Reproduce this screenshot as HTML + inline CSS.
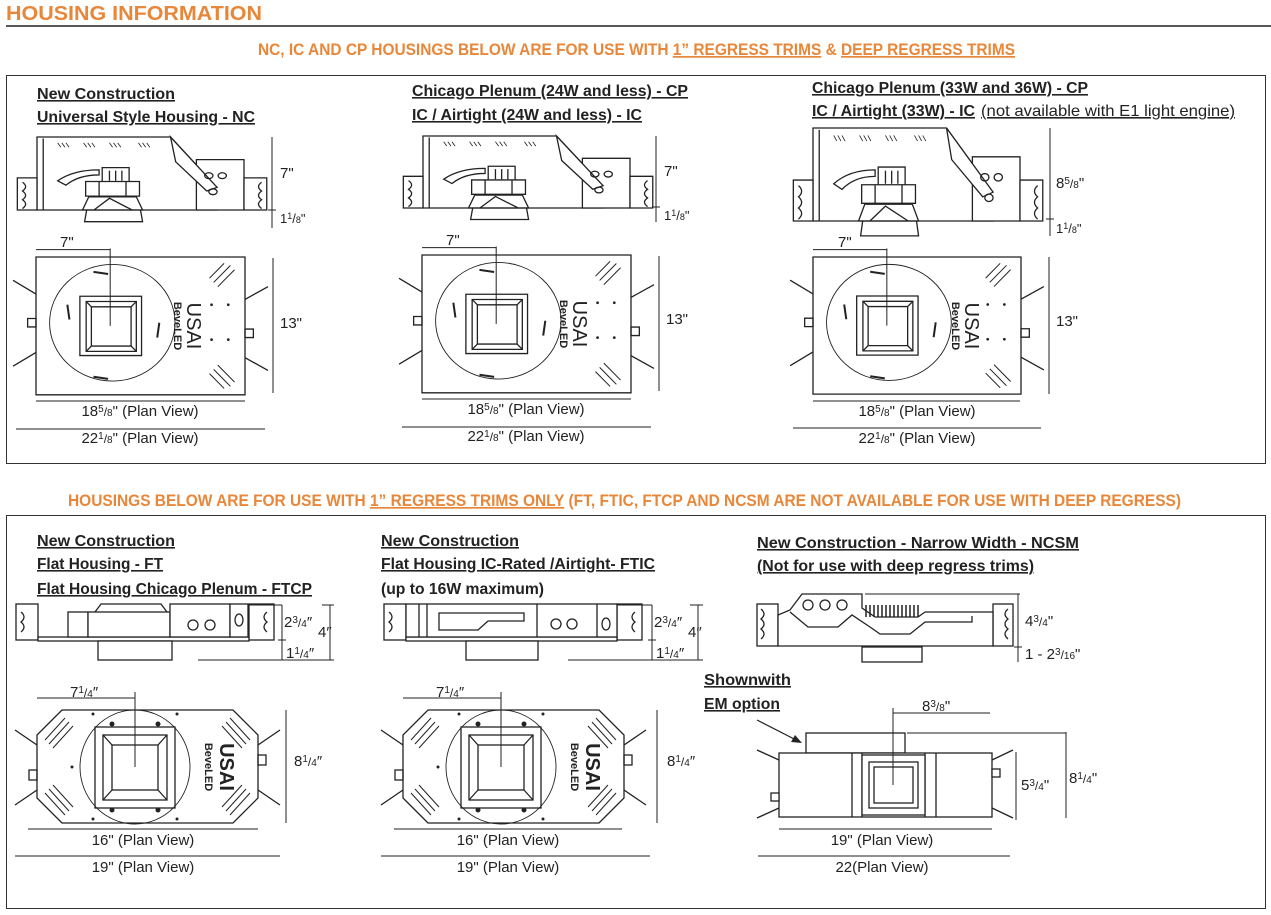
<!DOCTYPE html>
<html><head><meta charset="utf-8"><style>
html,body{margin:0;padding:0;background:#fff;}
svg{display:block;}
.h{font-family:"Liberation Sans Narrow","Liberation Sans",sans-serif;font-weight:bold;font-size:16px;fill:#222;text-decoration:underline;}
.o{font-family:"Liberation Sans Narrow","Liberation Sans",sans-serif;font-weight:bold;font-size:17px;fill:#e8873a;}
.d{font-family:"Liberation Sans",sans-serif;font-size:15px;fill:#222;}
.u{stroke:#222;stroke-width:1.2;}
</style></head><body>
<svg width="1271" height="915" viewBox="0 0 1271 915" xmlns="http://www.w3.org/2000/svg">
<defs>
<g id="side" fill="none" stroke="#222" stroke-width="1.3">
  <path vector-effect="non-scaling-stroke" d="M0,0 H129 L174,69 V100 H0 Z" fill="#fff"/>
  <path vector-effect="non-scaling-stroke" d="M6,2 V100"/>
  <path vector-effect="non-scaling-stroke" d="M154,31 H200 V100 H154 Z" fill="#fff"/>
  <path vector-effect="non-scaling-stroke" d="M129,0 L174,69 L164,74 L134,34 Z" fill="#fff"/>
  <rect vector-effect="non-scaling-stroke" x="-19" y="56" width="19" height="44" fill="#fff"/>
  <rect vector-effect="non-scaling-stroke" x="200" y="56" width="22" height="44" fill="#fff"/>
  <path vector-effect="non-scaling-stroke" d="M-14,62 q6,6 0,12 q6,6 0,12 q6,6 0,12 M217,62 q-6,6 0,12 q-6,6 0,12 q-6,6 0,12"/>
  <rect vector-effect="non-scaling-stroke" x="63" y="42" width="26" height="20" fill="#fff"/>
  <path vector-effect="non-scaling-stroke" d="M70,46 V60 M76,46 V60 M82,46 V60"/>
  <rect vector-effect="non-scaling-stroke" x="47" y="61" width="52" height="20" fill="#fff"/>
  <path vector-effect="non-scaling-stroke" d="M60,61 V81 M86,61 V81"/>
  <path vector-effect="non-scaling-stroke" d="M20,60 Q35,45 60,45 L60,52 Q40,52 28,66 Z"/>
  <path vector-effect="non-scaling-stroke" d="M50,82 H96 L102,100 H44 Z M48,100 L46,116 H102 L100,100 M55,100 L70,84 L92,100"/>
  <circle vector-effect="non-scaling-stroke" cx="166" cy="53" r="4"/>
  <circle vector-effect="non-scaling-stroke" cx="179" cy="53" r="4"/>
  <circle vector-effect="non-scaling-stroke" cx="170" cy="75" r="4"/>
  <path vector-effect="non-scaling-stroke" d="M20,8 l3,6 M24,8 l3,6 M28,8 l3,6 M45,8 l3,6 M49,8 l3,6 M53,8 l3,6 M70,8 l3,6 M74,8 l3,6 M78,8 l3,6 M98,8 l3,6 M102,8 l3,6 M106,8 l3,6" stroke-width="0.8"/>
</g>
<g id="plan" fill="none" stroke="#222" stroke-width="1.3">
  <rect vector-effect="non-scaling-stroke" x="0" y="0" width="200" height="130" fill="#fff"/>
  <ellipse vector-effect="non-scaling-stroke" cx="73" cy="62" rx="60" ry="55" stroke-width="0.9"/>
  <rect vector-effect="non-scaling-stroke" x="42" y="37" width="59" height="56"/>
  <rect vector-effect="non-scaling-stroke" x="48" y="42" width="48" height="47"/>
  <rect vector-effect="non-scaling-stroke" x="53" y="47" width="38" height="37"/>
  <path vector-effect="non-scaling-stroke" d="M48,42 L53,47 M96,42 L91,47 M48,89 L53,84 M96,89 L91,84"/>
  <path vector-effect="non-scaling-stroke" d="M71,-8 V65 M0,-7 H71" stroke-width="1"/>
  <path vector-effect="non-scaling-stroke" d="M0,35 L-22,22 M0,90 L-22,103 M200,40 L222,28 M200,95 L222,107"/>
  <rect vector-effect="non-scaling-stroke" x="-8" y="58" width="8" height="8"/>
  <rect vector-effect="non-scaling-stroke" x="200" y="68" width="8" height="8"/>
  <path vector-effect="non-scaling-stroke" d="M180,6 l-14,14 M186,8 l-16,16 M190,12 l-16,16 M180,124 l-14,-14 M186,122 l-16,-16 M190,118 l-16,-16" stroke-width="1"/>
  <path vector-effect="non-scaling-stroke" d="M55,14 l14,2 M30,45 l2,14 M118,62 l-2,14 M55,113 l14,2" stroke-width="2"/>
  <g fill="#222" stroke="none"><circle cx="168" cy="45" r="1.3"/><circle cx="184" cy="45" r="1.3"/><circle cx="168" cy="78" r="1.3"/><circle cx="184" cy="78" r="1.3"/></g>
</g>
<g id="flatplan" fill="none" stroke="#222" stroke-width="1.3">
  <path d="M25,0 H196 L221,25 V88 L196,113 H25 L0,88 V25 Z" fill="#fff"/>
  <ellipse cx="98" cy="57" rx="55" ry="57" stroke-width="0.9"/>
  <rect x="58" y="17" width="80" height="81"/>
  <rect x="66" y="25" width="64" height="65"/>
  <rect x="75" y="35" width="46" height="45"/>
  <path d="M66,25 L75,35 M130,25 L121,35 M66,90 L75,80 M130,90 L121,80"/>
  <path d="M98,-18 V57 M0,-12 H98" stroke-width="1"/>
  <path d="M0,35 L-22,20 M0,80 L-22,95 M221,35 L243,20 M221,80 L243,95"/>
  <rect x="-8" y="60" width="8" height="10"/><rect x="221" y="45" width="8" height="10"/>
  <path d="M8,30 L28,8 M12,34 L32,12 M16,38 L36,16 M8,83 L28,105 M12,79 L32,101 M16,75 L36,97 M213,30 L193,8 M209,34 L189,12 M205,38 L185,16 M213,83 L193,105 M209,79 L189,101 M205,75 L185,97" stroke-width="1"/>
  <g fill="#222" stroke="none"><circle cx="75" cy="14" r="2.5"/><circle cx="121" cy="14" r="2.5"/><circle cx="75" cy="100" r="2.5"/><circle cx="121" cy="100" r="2.5"/><circle cx="56" cy="4" r="1.5"/><circle cx="56" cy="109" r="1.5"/><circle cx="140" cy="4" r="1.5"/><circle cx="140" cy="109" r="1.5"/><circle cx="35" cy="57" r="1.5"/></g>
</g>
<g id="flatside" fill="#fff" stroke="#222" stroke-width="1.3">
  <rect x="-22" y="0" width="22" height="36"/>
  <path d="M-17,8 q6,5 0,10 q6,5 0,10" fill="none"/>
  <rect x="211" y="0" width="25" height="36"/>
  <path d="M229,8 q-6,5 0,10 q-6,5 0,10" fill="none"/>
  <rect x="0" y="33" width="211" height="4"/>
</g>
</defs>

<!-- header -->
<text x="6" y="20" class="o" style="font-size:20px" textLength="256" lengthAdjust="spacingAndGlyphs">HOUSING INFORMATION</text>
<line x1="6" y1="26" x2="1271" y2="26" stroke="#222" stroke-width="1.5"/>
<text x="258" y="55" class="o" textLength="757" lengthAdjust="spacingAndGlyphs">NC, IC AND CP HOUSINGS BELOW ARE FOR USE WITH  <tspan text-decoration="underline">1” REGRESS TRIMS</tspan> &amp; <tspan text-decoration="underline">DEEP REGRESS TRIMS</tspan></text>
<rect x="6.5" y="75.5" width="1259" height="388" fill="none" stroke="#333" stroke-width="1"/>

<!-- panel 1 -->
<text x="37" y="99" class="h" textLength="138" lengthAdjust="spacingAndGlyphs">New Construction</text>
<text x="37" y="122" class="h" textLength="218" lengthAdjust="spacingAndGlyphs">Universal Style Housing - NC</text>
<use href="#side" transform="translate(37,137) scale(1.035,0.73)"/>
<path d="M272,137 V228 M268,210 H276" stroke="#222" stroke-width="1" fill="none"/>
<text x="280" y="178" class="d">7"</text>
<text x="280" y="223" class="d" style="font-size:13px">1<tspan font-size="9" dy="-4">1</tspan><tspan dy="4">/</tspan><tspan font-size="9">8</tspan>"</text>
<use href="#plan" transform="translate(36,257) scale(1.045,1.06)"/>
<text x="60" y="247" class="d">7"</text>
<text x="187" y="326" transform="rotate(90 187 326)" text-anchor="middle" style="font-family:'Liberation Sans',sans-serif;font-size:20px;fill:#222">USAI</text>
<text x="174" y="326" transform="rotate(90 174 326)" text-anchor="middle" style="font-family:'Liberation Sans',sans-serif;font-weight:bold;font-size:11px;fill:#222">BeveLED</text>
<path d="M273,258 V393" stroke="#222" stroke-width="1"/>
<text x="280" y="328" class="d">13"</text>
<path d="M36,401 H245 M16,429 H265" stroke="#222" stroke-width="1"/>
<text x="140" y="416" class="d" text-anchor="middle">18<tspan font-size="10" dy="-4">5</tspan><tspan font-size="12" dy="4">/</tspan><tspan font-size="10">8</tspan>" (Plan View)</text>
<text x="140" y="443" class="d" text-anchor="middle">22<tspan font-size="10" dy="-4">1</tspan><tspan font-size="12" dy="4">/</tspan><tspan font-size="10">8</tspan>" (Plan View)</text>

<!-- panel 2 -->
<text x="412" y="96" class="h" textLength="276" lengthAdjust="spacingAndGlyphs">Chicago Plenum (24W and less) - CP</text>
<text x="412" y="120" class="h" textLength="230" lengthAdjust="spacingAndGlyphs">IC / Airtight (24W and less) - IC</text>
<use href="#side" transform="translate(423,136) scale(1.035,0.72)"/>
<path d="M656,136 V222 M652,207 H660" stroke="#222" stroke-width="1" fill="none"/>
<text x="664" y="176" class="d">7"</text>
<text x="664" y="220" class="d" style="font-size:13px">1<tspan font-size="9" dy="-4">1</tspan><tspan dy="4">/</tspan><tspan font-size="9">8</tspan>"</text>
<use href="#plan" transform="translate(422,255) scale(1.045,1.06)"/>
<text x="446" y="245" class="d">7"</text>
<text x="573" y="324" transform="rotate(90 573 324)" text-anchor="middle" style="font-family:'Liberation Sans',sans-serif;font-size:20px;fill:#222">USAI</text>
<text x="560" y="324" transform="rotate(90 560 324)" text-anchor="middle" style="font-family:'Liberation Sans',sans-serif;font-weight:bold;font-size:11px;fill:#222">BeveLED</text>
<path d="M659,256 V391" stroke="#222" stroke-width="1"/>
<text x="666" y="324" class="d">13"</text>
<path d="M422,399 H631 M402,427 H651" stroke="#222" stroke-width="1"/>
<text x="526" y="414" class="d" text-anchor="middle">18<tspan font-size="10" dy="-4">5</tspan><tspan font-size="12" dy="4">/</tspan><tspan font-size="10">8</tspan>" (Plan View)</text>
<text x="526" y="441" class="d" text-anchor="middle">22<tspan font-size="10" dy="-4">1</tspan><tspan font-size="12" dy="4">/</tspan><tspan font-size="10">8</tspan>" (Plan View)</text>

<!-- panel 3 -->
<text x="812" y="93" class="h" textLength="276" lengthAdjust="spacingAndGlyphs">Chicago Plenum (33W and 36W) - CP</text>
<text x="812" y="116" class="h" textLength="163" lengthAdjust="spacingAndGlyphs">IC / Airtight (33W) - IC</text>
<text x="981" y="116" style="font-family:'Liberation Sans Narrow','Liberation Sans',sans-serif;font-size:16px;fill:#222;text-decoration:underline" textLength="254" lengthAdjust="spacingAndGlyphs">(not available with E1 light engine)</text>
<use href="#side" transform="translate(813,128) scale(1.035,0.93)"/>
<path d="M1050,128 V236 M1046,219 H1054" stroke="#222" stroke-width="1" fill="none"/>
<text x="1056" y="188" class="d">8<tspan font-size="10" dy="-4">5</tspan><tspan font-size="12" dy="4">/</tspan><tspan font-size="10">8</tspan>"</text>
<text x="1056" y="233" class="d" style="font-size:13px">1<tspan font-size="9" dy="-4">1</tspan><tspan dy="4">/</tspan><tspan font-size="9">8</tspan>"</text>
<use href="#plan" transform="translate(813,257) scale(1.04,1.055)"/>
<text x="838" y="247" class="d">7"</text>
<text x="965" y="326" transform="rotate(90 965 326)" text-anchor="middle" style="font-family:'Liberation Sans',sans-serif;font-size:20px;fill:#222">USAI</text>
<text x="952" y="326" transform="rotate(90 952 326)" text-anchor="middle" style="font-family:'Liberation Sans',sans-serif;font-weight:bold;font-size:11px;fill:#222">BeveLED</text>
<path d="M1049,257 V394" stroke="#222" stroke-width="1"/>
<text x="1056" y="326" class="d">13"</text>
<path d="M813,401 H1020 M793,428 H1041" stroke="#222" stroke-width="1"/>
<text x="917" y="416" class="d" text-anchor="middle">18<tspan font-size="10" dy="-4">5</tspan><tspan font-size="12" dy="4">/</tspan><tspan font-size="10">8</tspan>" (Plan View)</text>
<text x="917" y="443" class="d" text-anchor="middle">22<tspan font-size="10" dy="-4">1</tspan><tspan font-size="12" dy="4">/</tspan><tspan font-size="10">8</tspan>" (Plan View)</text>

<!-- second section -->
<text x="68" y="506" class="o" textLength="1113" lengthAdjust="spacingAndGlyphs">HOUSINGS BELOW ARE FOR USE WITH  <tspan text-decoration="underline">1” REGRESS TRIMS ONLY</tspan> (FT, FTIC, FTCP AND NCSM ARE NOT AVAILABLE FOR USE WITH DEEP REGRESS)</text>
<rect x="6.5" y="515.5" width="1259" height="393" fill="none" stroke="#333" stroke-width="1"/>

<!-- panel A -->
<text x="37" y="546" class="h" textLength="138" lengthAdjust="spacingAndGlyphs">New Construction</text>
<text x="37" y="569" class="h" textLength="126" lengthAdjust="spacingAndGlyphs">Flat Housing - FT</text>
<text x="37" y="594" class="h" textLength="275" lengthAdjust="spacingAndGlyphs">Flat Housing Chicago Plenum - FTCP</text>
<use href="#flatside" transform="translate(38,604)"/>
<g fill="#fff" stroke="#222" stroke-width="1.3">
<rect x="68" y="612" width="20" height="25"/><rect x="88" y="612" width="82" height="25"/>
<path d="M95,612 l6,-8 h60 l6,8" fill="none"/>
<rect x="170" y="604" width="60" height="33"/><rect x="230" y="604" width="18" height="33"/>
<circle cx="193" cy="625" r="5"/><circle cx="210" cy="625" r="5"/><ellipse cx="239" cy="620" rx="4" ry="6"/>
<rect x="98" y="641" width="74" height="19"/>
</g>
<path d="M249,605 H282 M282,605 V660 M278,640 H286 M198,660 H334 M322,605 H334 M330,605 V660" stroke="#222" stroke-width="1" fill="none"/>
<text x="284" y="627" class="d">2<tspan font-size="10" dy="-4">3</tspan><tspan font-size="12" dy="4">/</tspan><tspan font-size="10">4</tspan>″</text>
<text x="318" y="637" class="d">4″</text>
<text x="286" y="658" class="d">1<tspan font-size="10" dy="-4">1</tspan><tspan font-size="12" dy="4">/</tspan><tspan font-size="10">4</tspan>″</text>
<use href="#flatplan" transform="translate(37,710)"/>
<text x="70" y="697" class="d">7<tspan font-size="10" dy="-4">1</tspan><tspan font-size="12" dy="4">/</tspan><tspan font-size="10">4</tspan>″</text>
<text x="220" y="767" transform="rotate(90 220 767)" text-anchor="middle" style="font-family:'Liberation Sans',sans-serif;font-weight:bold;font-size:20px;fill:#222">USAI</text>
<text x="205" y="767" transform="rotate(90 205 767)" text-anchor="middle" style="font-family:'Liberation Sans',sans-serif;font-weight:bold;font-size:11px;fill:#222">BeveLED</text>
<path d="M286,710 V823" stroke="#222" stroke-width="1"/>
<text x="294" y="766" class="d">8<tspan font-size="10" dy="-4">1</tspan><tspan font-size="12" dy="4">/</tspan><tspan font-size="10">4</tspan>″</text>
<path d="M28,829 H258 M15,856 H280" stroke="#222" stroke-width="1"/>
<text x="143" y="845" class="d" text-anchor="middle">16" (Plan View)</text>
<text x="143" y="872" class="d" text-anchor="middle">19" (Plan View)</text>

<!-- panel B -->
<text x="381" y="546" class="h" textLength="138" lengthAdjust="spacingAndGlyphs">New Construction</text>
<text x="381" y="569" class="h" textLength="274" lengthAdjust="spacingAndGlyphs">Flat Housing IC-Rated /Airtight- FTIC</text>
<text x="381" y="594" class="h" style="text-decoration:none" textLength="163" lengthAdjust="spacingAndGlyphs">(up to 16W maximum)</text>
<use href="#flatside" transform="translate(406,604)"/>
<g fill="#fff" stroke="#222" stroke-width="1.3">
<rect x="406" y="604" width="211" height="33"/>
<path d="M419,604 V637 M427,604 V637 M537,604 V637 M597,604 V637"/>
<path d="M439,613 H524 V621 H488 L478,630 H439 Z"/>
<circle cx="556" cy="624" r="5"/><circle cx="572" cy="624" r="5"/><ellipse cx="606" cy="624" rx="4" ry="6"/>
<rect x="466" y="641" width="72" height="19"/>
</g>
<path d="M617,605 H652 M652,605 V660 M648,640 H656 M568,660 H703 M690,605 H703 M698,605 V660" stroke="#222" stroke-width="1" fill="none"/>
<text x="654" y="627" class="d">2<tspan font-size="10" dy="-4">3</tspan><tspan font-size="12" dy="4">/</tspan><tspan font-size="10">4</tspan>″</text>
<text x="688" y="637" class="d">4″</text>
<text x="656" y="658" class="d">1<tspan font-size="10" dy="-4">1</tspan><tspan font-size="12" dy="4">/</tspan><tspan font-size="10">4</tspan>″</text>
<use href="#flatplan" transform="translate(403,710)"/>
<text x="436" y="697" class="d">7<tspan font-size="10" dy="-4">1</tspan><tspan font-size="12" dy="4">/</tspan><tspan font-size="10">4</tspan>″</text>
<text x="586" y="767" transform="rotate(90 586 767)" text-anchor="middle" style="font-family:'Liberation Sans',sans-serif;font-weight:bold;font-size:20px;fill:#222">USAI</text>
<text x="571" y="767" transform="rotate(90 571 767)" text-anchor="middle" style="font-family:'Liberation Sans',sans-serif;font-weight:bold;font-size:11px;fill:#222">BeveLED</text>
<path d="M657,710 V823" stroke="#222" stroke-width="1"/>
<text x="667" y="766" class="d">8<tspan font-size="10" dy="-4">1</tspan><tspan font-size="12" dy="4">/</tspan><tspan font-size="10">4</tspan>″</text>
<path d="M394,829 H622 M381,856 H650" stroke="#222" stroke-width="1"/>
<text x="508" y="845" class="d" text-anchor="middle">16" (Plan View)</text>
<text x="508" y="872" class="d" text-anchor="middle">19" (Plan View)</text>

<!-- panel C -->
<text x="757" y="548" class="h" textLength="322" lengthAdjust="spacingAndGlyphs">New Construction - Narrow Width - NCSM</text>
<text x="757" y="571" class="h" textLength="277" lengthAdjust="spacingAndGlyphs">(Not for use with deep regress trims)</text>
<g fill="#fff" stroke="#222" stroke-width="1.3">
<rect x="757" y="604" width="21" height="42"/><rect x="993" y="604" width="20" height="42"/>
<path d="M761,609 q6,5 0,10 q6,5 0,10 q6,5 0,10 M1008,609 q-6,5 0,10 q-6,5 0,10 q-6,5 0,10" fill="none"/>
<path d="M778,646 V615 L790,610 L802,594 H862 V608 L875,617 H918 L925,612 H993 V646 Z"/>
<path d="M790,612 L808,627 H838 L852,615 L870,627 L880,634 H910 L925,622 H972 V616" fill="none"/>
<circle cx="808" cy="605" r="5"/><circle cx="825" cy="605" r="5"/><circle cx="842" cy="605" r="5"/>
<path d="M866,605 V617 M870,605 V617 M874,605 V617 M878,605 V617 M882,605 V617 M886,605 V617 M890,605 V617 M894,605 V617 M898,605 V617 M902,605 V617 M906,605 V617 M910,605 V617 M914,605 V617 M918,605 V617" fill="none" stroke-width="1.5"/>
<rect x="862" y="647" width="60" height="15"/>
</g>
<path d="M865,594 H1020 M1018,594 V662 M1014,647 H1022" stroke="#222" stroke-width="1" fill="none"/>
<text x="1025" y="626" class="d">4<tspan font-size="10" dy="-4">3</tspan><tspan font-size="12" dy="4">/</tspan><tspan font-size="10">4</tspan>"</text>
<text x="1025" y="659" class="d">1 - 2<tspan font-size="10" dy="-4">3</tspan><tspan font-size="12" dy="4">/</tspan><tspan font-size="10">16</tspan>"</text>
<text x="704" y="685" class="h" textLength="87" lengthAdjust="spacingAndGlyphs">Shownwith</text>
<text x="704" y="709" class="h" textLength="76" lengthAdjust="spacingAndGlyphs">EM option</text>
<path d="M757,720 L800,742" stroke="#222" stroke-width="1.2"/>
<path d="M802,743 L791,742 L795,735 Z" fill="#222"/>
<g fill="#fff" stroke="#222" stroke-width="1.3">
<rect x="806" y="733" width="99" height="20"/>
<rect x="779" y="753" width="213" height="64"/>
<path d="M852,753 V817 M862,753 V817 M925,753 V817 M936,753 V817" fill="none"/>
<rect x="862" y="755" width="63" height="60"/>
<rect x="869" y="762" width="49" height="46"/>
<rect x="874" y="767" width="39" height="36"/>
<path d="M779,760 L757,750 M779,808 L757,818 M992,760 L1013,750 M992,808 L1013,818" fill="none"/>
<rect x="771" y="793" width="8" height="8"/><rect x="992" y="769" width="8" height="8"/>
</g>
<path d="M893,708 V785 M893,713 H990 M907,733 H1066 M1066,732 V818 M1016,752 V820" stroke="#222" stroke-width="1" fill="none"/>
<text x="922" y="711" class="d">8<tspan font-size="10" dy="-4">3</tspan><tspan font-size="12" dy="4">/</tspan><tspan font-size="10">8</tspan>"</text>
<text x="1021" y="790" class="d">5<tspan font-size="10" dy="-4">3</tspan><tspan font-size="12" dy="4">/</tspan><tspan font-size="10">4</tspan>"</text>
<text x="1069" y="783" class="d">8<tspan font-size="10" dy="-4">1</tspan><tspan font-size="12" dy="4">/</tspan><tspan font-size="10">4</tspan>"</text>
<path d="M779,829 H992 M758,856 H1010" stroke="#222" stroke-width="1"/>
<text x="882" y="845" class="d" text-anchor="middle">19" (Plan View)</text>
<text x="882" y="872" class="d" text-anchor="middle">22(Plan View)</text>
</svg>
</body></html>
